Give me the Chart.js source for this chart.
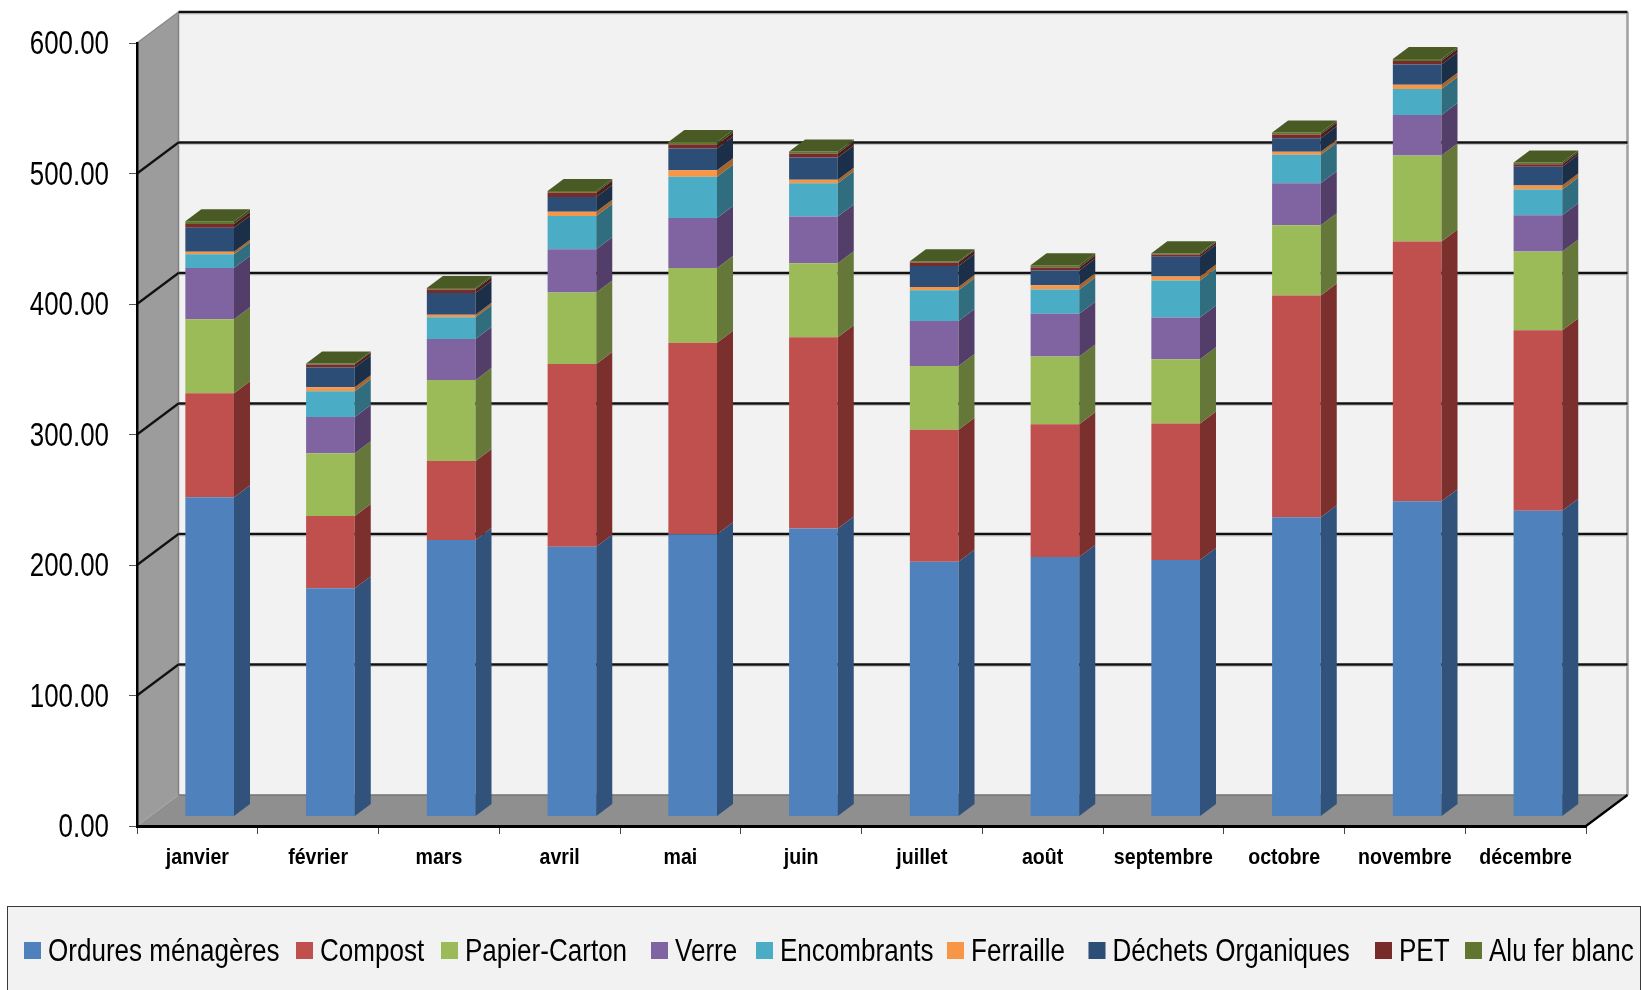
<!DOCTYPE html>
<html lang="fr">
<head>
<meta charset="utf-8">
<title>Déchets par mois</title>
<script src="https://cdn.jsdelivr.net/npm/chart.js@4"></script>
<style>
html,body{margin:0;padding:0;background:#fff;overflow:hidden}
canvas{display:block}
</style>
</head>
<body>
<canvas id="c" width="1641" height="990"></canvas>
<script>
const months = ["janvier","février","mars","avril","mai","juin","juillet","août","septembre","octobre","novembre","décembre"];
const seriesNames = ["Ordures ménagères","Compost","Papier-Carton","Verre","Encombrants","Ferraille","Déchets Organiques","PET","Alu fer blanc"];
const ordures     = [244.6,174.9,211.9,206.8,216.2,220.6,195.3,198.9,196.6,229.3,241.5,234.3];
const compost     = [79.8,55.4,60.5,140.0,146.9,146.6,101.1,101.7,104.5,169.9,199.2,138.4];
const papier      = [56.6,48.0,62.1,54.7,57.2,56.7,48.8,51.9,49.3,53.9,65.9,60.3];
const verre       = [39.3,27.8,31.4,33.2,38.3,35.8,34.5,32.7,31.9,32.2,30.9,27.8];
const encombrants = [10.5,19.7,16.6,25.5,31.7,25.5,23.5,18.6,28.4,21.7,19.9,19.7];
const ferraille   = [2.0,3.1,2.0,3.3,4.9,2.8,2.6,3.3,3.1,2.3,3.3,3.1];
const organiques  = [18.4,15.1,16.6,11.2,16.6,16.9,16.1,11.2,15.1,10.5,15.6,14.3];
const pet         = [2.8,2.3,2.8,3.3,3.1,3.1,2.6,2.3,1.8,2.8,2.6,2.0];
const alu         = [2.1,0.8,1.0,1.3,2.0,1.5,1.0,1.8,1.0,1.5,1.5,1.3];
const seriesValues = [ordures,compost,papier,verre,encombrants,ferraille,organiques,pet,alu];
const frontColors = ["#4f81bd","#c0504d","#9bbb59","#8064a2","#4bacc6","#f79646","#2c4d75","#772c2a","#5f7530"];
const sideColors  = ["#30527b","#7c302e","#65783a","#523e69","#306e7f","#a5652c","#1b2f48","#4c1b1a","#3d4b1f"];
const topColor = "#4a5a25";

const WALL = {dx:41.5, dy:31};
const BAR_DEPTH = {dx:16, dy:12};
const BAR_SHIFT = {dx:12.3, dy:9.5};
const LEGEND_X = [24,296,441,651,756,947,1088.5,1375,1465];
const FONT = '"Liberation Sans",Arial,sans-serif';
const Y_SIZE = 33, X_SIZE = 22, LEGEND_SIZE = 31;
// Horizontal condensing and baseline nudge per text size (imitates a narrow face).
const TEXT_STYLE = {[Y_SIZE]:{k:0.785,dy:2},[X_SIZE]:{k:0.89,dy:0},[LEGEND_SIZE]:{k:0.84,dy:0}};

const canvas = document.getElementById('c');
const ctx0 = canvas.getContext('2d');
const nativeFillText = ctx0.fillText.bind(ctx0);
ctx0.fillText = function(text,x,y){
  const m = /(\d+(?:\.\d+)?)px/.exec(ctx0.font);
  const st = TEXT_STYLE[m ? +m[1] : 0] || {k:1,dy:0};
  nativeFillText(text,x,y+st.dy,ctx0.measureText(text).width*st.k);
};

function poly(ctx, pts, fill){
  ctx.beginPath();
  pts.forEach((p,i)=> i?ctx.lineTo(p[0],p[1]):ctx.moveTo(p[0],p[1]));
  ctx.closePath();
  if(fill){ctx.fillStyle=fill;ctx.fill();}
}
function seg(ctx,a,b,color,w){
  ctx.beginPath();ctx.moveTo(a[0],a[1]);ctx.lineTo(b[0],b[1]);
  ctx.strokeStyle=color;ctx.lineWidth=w;ctx.stroke();
}

const walls3d = {
  id:'walls3d',
  beforeDraw(chart){
    const {ctx,chartArea:a,scales:{y}} = chart;
    const dx=WALL.dx, dy=WALL.dy;
    ctx.save();
    poly(ctx,[[a.left+dx,a.top-dy],[a.right+dx,a.top-dy],[a.right+dx,a.bottom-dy],[a.left+dx,a.bottom-dy]],"#f2f2f2");
    poly(ctx,[[a.left,a.top],[a.left+dx,a.top-dy],[a.left+dx,a.bottom-dy],[a.left,a.bottom]],"#9c9c9c");
    poly(ctx,[[a.left,a.bottom],[a.left+dx,a.bottom-dy],[a.right+dx,a.bottom-dy],[a.right,a.bottom]],"#8f8f8f");
    seg(ctx,[a.left+dx,a.top-dy],[a.left+dx,a.bottom-dy],"#808080",1.5);
    seg(ctx,[a.right+dx,a.top-dy],[a.right+dx,a.bottom-dy],"#a0a0a0",2.5);
    seg(ctx,[a.left+dx,a.bottom-dy],[a.right+dx,a.bottom-dy],"#737373",1.5);
    seg(ctx,[a.left,a.top],[a.left+dx,a.top-dy],"#8a8a8a",1.5);
    seg(ctx,[a.left,a.bottom],[a.left+dx,a.bottom-dy],"#a6a6a6",1);
    y.ticks.forEach(t=>{
      const py=y.getPixelForValue(t.value);
      if(t.value===0) return;
      if(t.value!==y.max) seg(ctx,[a.left,py],[a.left+dx,py-dy],"#111",2.2);
      seg(ctx,[a.left+dx,py-dy+2],[a.right+dx,py-dy+2],"#c8c8c8",1);
      seg(ctx,[a.left+dx,py-dy],[a.right+dx,py-dy],"#111",2.4);
    });
    seg(ctx,[a.right,a.bottom],[a.right+dx,a.bottom-dy],"#000",2.2);
    ctx.restore();
  },
  beforeDatasetsDraw(chart){
    chart.ctx.save();
    chart.ctx.translate(BAR_SHIFT.dx,-BAR_SHIFT.dy);
  },
  afterDatasetsDraw(chart){
    const ctx=chart.ctx, dx=BAR_DEPTH.dx, dy=BAR_DEPTH.dy;
    chart.data.datasets.forEach((ds,i)=>{
      chart.getDatasetMeta(i).data.forEach(el=>{
        const p=el.getProps(['x','y','base','width'],true);
        const r=p.x+p.width/2;
        poly(ctx,[[r,p.base],[r,p.y],[r+dx,p.y-dy],[r+dx,p.base-dy]],sideColors[i]);
      });
    });
    const last=chart.data.datasets.length-1;
    chart.getDatasetMeta(last).data.forEach(el=>{
      const p=el.getProps(['x','y','width'],true);
      const l=p.x-p.width/2, r=p.x+p.width/2;
      poly(ctx,[[l,p.y],[r,p.y],[r+dx,p.y-dy],[l+dx,p.y-dy]],topColor);
    });
    ctx.restore();
  },
  afterDraw(chart){
    const ctx=chart.ctx;
    ctx.save();
    const bx=7.5, by=906.5;
    ctx.fillStyle="#f2f2f2";
    ctx.fillRect(bx,by,1633,100);
    ctx.strokeStyle="#3a3a3a";ctx.lineWidth=1;
    ctx.strokeRect(bx,by,1633,100);
    ctx.font=LEGEND_SIZE+'px '+FONT;
    ctx.textBaseline='middle';ctx.textAlign='left';
    chart.data.datasets.forEach((ds,i)=>{
      const x=LEGEND_X[i];
      ctx.fillStyle=frontColors[i];
      ctx.fillRect(x,942,17,17);
      ctx.fillStyle="#000";
      ctx.fillText(ds.label,x+24,952);
    });
    ctx.restore();
  }
};

new Chart(canvas,{
  type:'bar',
  data:{
    labels:months,
    datasets:seriesNames.map((n,i)=>({
      label:n,
      data:seriesValues[i],
      backgroundColor:frontColors[i],
      borderWidth:0,
      barPercentage:0.403,
      categoryPercentage:1,
      clip:false
    }))
  },
  options:{
    responsive:false,
    animation:false,
    devicePixelRatio:1,
    layout:{padding:{top:43,right:55,left:0,bottom:0}},
    plugins:{legend:{display:false},title:{display:false},tooltip:{enabled:false}},
    scales:{
      x:{
        stacked:true,
        offset:true,
        afterFit(s){s.height=164;},
        grid:{display:true,offset:true,drawOnChartArea:false,drawTicks:true,tickLength:8,color:"#444",lineWidth:1},
        border:{display:true,color:"#000",width:3},
        ticks:{color:"#000",font:{family:FONT,size:X_SIZE,weight:'bold'},padding:11,maxRotation:0,autoSkip:false}
      },
      y:{
        stacked:true,
        min:0,max:600,
        afterFit(s){s.width=137;},
        grid:{display:true,drawOnChartArea:false,drawTicks:true,tickLength:8,color:"#555",lineWidth:1},
        border:{display:true,color:"#000",width:2.5},
        ticks:{stepSize:100,color:"#000",font:{family:FONT,size:Y_SIZE},padding:20,callback:v=>v.toFixed(2)}
      }
    }
  },
  plugins:[walls3d]
});
</script>
</body>
</html>
